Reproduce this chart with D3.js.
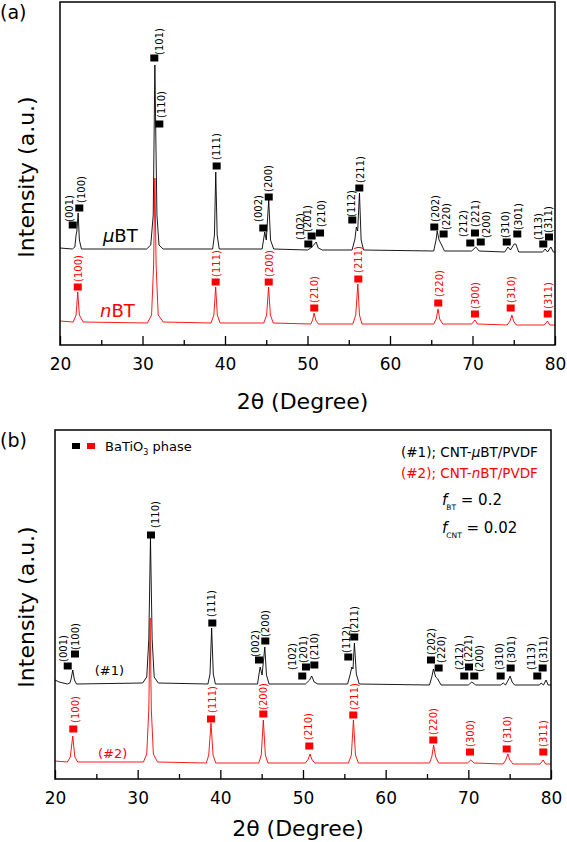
<!DOCTYPE html>
<html><head><meta charset="utf-8">
<script src="https://cdn.jsdelivr.net/npm/d3@7"></script>
<style>body{margin:0;background:#fff}</style>
</head><body>
<svg id="c" width="567" height="842" xmlns="http://www.w3.org/2000/svg"></svg>
<script>
// ---------- data ----------
const xDomain = [20, 80];
const xTicks = [20, 30, 40, 50, 60, 70, 80];
const xMinorTicks = [25, 35, 45, 55, 65, 75];

// panel (a): muBT (black) and nBT (red), [2theta, intensity a.u.]
const aBlack = [[20,97],[21.5,96],[21.8,98],[21.95,110],[22.05,114],[22.2,132],[22.35,105],[22.6,96],
 [30.5,96],[31.0,100],[31.3,130],[31.5,280],[31.62,205],[31.75,130],[32.0,100],[32.5,96],
 [38.5,96],[38.72,110],[38.88,173],[39.05,110],[39.3,96],
 [44.5,96],[44.82,113],[45.0,105],[45.3,145],[45.52,105],[45.9,96],
 [50.0,95],[50.4,97],[50.85,101],[51.05,103],[51.3,97],[51.8,95],
 [55.4,95],[55.75,106],[55.92,118],[56.08,114],[56.3,152],[56.5,105],[56.8,95],
 [65.3,94],[65.58,105],[65.72,114],[65.95,105],[66.2,101],[66.6,94],
 [69.9,94],[70.4,98],[70.8,94],
 [73.9,93],[74.3,98],[74.6,95],[75.05,101],[75.25,101],[75.6,93],
 [78.5,93],[78.8,96],[79.1,93],[79.5,98],[79.8,93],[80,93]];
const aRed = [[20,24],[21.6,23],[21.95,30],[22.15,53],[22.35,30],[22.8,23],
 [30.6,22],[31.1,30],[31.35,80],[31.5,167],[31.65,80],[31.9,30],[32.5,23],
 [38.3,22],[38.65,30],[38.87,58],[39.07,30],[39.4,22],
 [44.7,22],[45.05,30],[45.28,58],[45.5,30],[45.85,22],
 [50.4,21],[50.62,25],[50.8,32],[51.0,25],[51.3,21],
 [55.5,21],[55.85,30],[56.1,61],[56.3,30],[56.6,21],
 [65.3,21],[65.6,26],[65.82,36],[66.02,26],[66.4,21],
 [69.9,21],[70.3,25],[70.6,21],
 [74.2,20],[74.55,24],[74.78,30],[74.98,24],[75.3,20],
 [78.7,20],[79.1,24],[79.35,20],[80,20]];

// panel (b): #1 CNT-muBT/PVDF (black), #2 CNT-nBT/PVDF (red)
const bBlack = [[20,99],[20.5,97],[21.5,95],[21.8,96],[21.95,100],[22.15,109],[22.35,99],[22.6,95],
 [30.6,96],[31.1,102],[31.35,140],[31.55,241],[31.75,140],[32.0,102],[32.5,96],
 [38.5,95],[38.75,105],[38.95,151],[39.15,105],[39.4,95],
 [44.5,95],[44.7,106],[44.82,112],[45.05,104],[45.38,132],[45.58,104],[45.9,95],
 [50.3,95],[50.8,99],[51.05,103],[51.35,97],[51.8,95],
 [55.4,95],[55.72,105],[55.9,112],[56.05,110],[56.22,136],[56.45,105],[56.8,95],
 [65.3,94],[65.58,102],[65.78,110],[66.05,102],[66.3,100],[66.7,94],
 [70.0,94],[70.42,97],[70.9,94],
 [73.9,94],[74.22,96],[74.5,94],[74.9,100],[75.05,103],[75.3,97],[75.6,94],
 [78.6,94],[78.8,96],[79.1,94],[79.4,99],[79.65,94],[80,94]];
const bRed = [[20,18],[21.5,17],[21.85,22],[22.15,43],[22.4,22],[22.75,17],
 [30.7,17],[31.1,25],[31.35,70],[31.5,161],[31.65,70],[31.9,25],[32.4,17],
 [38.3,16],[38.6,24],[38.87,56],[39.12,24],[39.45,16],
 [44.65,16],[44.95,24],[45.2,59],[45.45,24],[45.75,16],
 [50.3,16],[50.65,20],[50.85,25],[51.05,20],[51.4,16],
 [55.5,16],[55.85,24],[56.1,59],[56.35,24],[56.7,16],
 [65.3,16],[65.58,22],[65.8,34],[66.05,22],[66.4,16],
 [69.9,16],[70.3,19],[70.7,16],
 [74.2,15],[74.52,19],[74.78,25],[75.02,19],[75.4,15],
 [78.7,15],[79.05,19],[79.35,15],[80,15]];

// peak labels: [hkl, marker 2theta, marker intensity, label 2theta, label-start intensity]
const aBlackLabels = [["(001)",21.54,120,21.1,123],["(100)",22.34,137,22.55,142],["(101)",31.43,287,32.0,290],
 ["(110)",32.04,221,32.33,227],["(111)",38.99,179,39.0,185],["(002)",44.64,117,44.12,123],["(200)",45.3,148,45.33,153],
 ["(102)",50.1,101,49.1,105],["(201)",50.5,109,50.06,113],["(210)",51.52,112,51.72,118],["(112)",55.43,125,55.36,128],
 ["(211)",56.28,157,56.45,162],["(202)",65.37,118,65.54,123],["(220)",66.5,111,66.87,115],["(212)",69.73,102,68.88,108],
 ["(221)",70.3,112,70.42,118],["(200)",71.0,103,71.64,107],["(310)",74.15,103,74.06,107],["(301)",75.43,111,75.55,115],
 ["(113)",78.58,101,77.98,105],["(311)",79.27,108,79.19,112]];
const aRedLabels = [["(100)",22.15,58,22.22,63],["(111)",38.87,63,38.97,68],["(200)",45.3,63,45.4,68],
 ["(210)",50.82,37,50.9,42],["(211)",56.16,66,56.24,72],["(220)",65.85,42,65.94,48],["(300)",70.3,31,70.42,36],
 ["(310)",74.63,37,74.73,42],["(311)",79.12,31,79.2,36]];
const bBlackLabels = [["(001)",21.54,113,20.97,117],["(100)",22.42,125,22.54,129],["(110)",31.61,244,32.1,251],
 ["(111)",39.03,156,38.96,162],["(002)",44.68,119,44.25,122],["(200)",45.44,138,45.52,142],
 ["(102)",49.91,103,48.79,109],["(201)",50.36,112,50.04,116],["(210)",51.37,114,51.45,119],["(112)",55.48,122,55.28,126],
 ["(211)",56.2,142,56.29,146],["(202)",65.48,119,65.57,124],["(220)",66.41,111,66.78,116],["(212)",69.51,103,68.91,109],
 ["(221)",70.08,112,70.08,117],["(200)",70.72,103,71.41,107],["(310)",73.91,103,73.74,109],["(301)",75.12,111,75.24,116],
 ["(113)",78.34,103,77.66,109],["(311)",78.99,111,79.15,116]];
const bRedLabels = [["(100)",22.21,50,22.5,56],["(111)",38.87,60,39.03,66],["(200)",45.2,65,45.28,69],
 ["(210)",50.76,33,50.72,39],["(211)",56.08,64,56.17,69],["(220)",65.76,39,65.78,44],["(300)",70.2,27,70.32,32],
 ["(310)",74.64,30,74.74,36],["(311)",79.07,27,79.15,32]];

// ---------- drawing ----------
const FONT = "'DejaVu Sans', sans-serif";
const RED = "#ff0000";
const svg = d3.select("#c").attr("font-family", FONT);

function panel(cfg) {
  const g = svg.append("g");
  const x = d3.scaleLinear().domain(xDomain).range([cfg.left, cfg.right]);
  const y = d3.scaleLinear().domain([0, cfg.yMax]).range([cfg.bottom, cfg.top]);
  const line = d3.line().x(d => x(d[0])).y(d => y(d[1]));

  g.append("path").datum(cfg.black).attr("d", line).attr("fill", "none")
    .attr("stroke", "#000").attr("stroke-width", 0.9).attr("stroke-linejoin", "round");
  g.append("path").datum(cfg.red).attr("d", line).attr("fill", "none")
    .attr("stroke", RED).attr("stroke-width", 0.9).attr("stroke-linejoin", "round");

  function labels(arr, color) {
    const lg = g.append("g");
    lg.selectAll("rect").data(arr).join("rect")
      .attr("x", d => x(d[1]) - 4).attr("y", d => y(d[2]) - 3.5)
      .attr("width", 8).attr("height", 7).attr("fill", color);
    lg.selectAll("text").data(arr).join("text")
      .attr("transform", d => `translate(${x(d[3])},${y(d[4])}) rotate(-90)`)
      .attr("dominant-baseline", "central")
      .attr("font-size", 10).attr("fill", color).text(d => d[0]);
  }
  labels(cfg.blackLabels, "#000");
  labels(cfg.redLabels, RED);

  const major = d3.axisBottom(x).tickValues(xTicks).tickSizeInner(-9).tickSizeOuter(0)
    .tickPadding(13).tickFormat(d3.format("d"));
  const gm = g.append("g").attr("transform", `translate(0,${cfg.bottom})`).call(major);
  gm.select(".domain").remove();
  gm.selectAll("line").attr("stroke", "#000").attr("stroke-width", 1.3);
  gm.selectAll("text").attr("font-size", 17).attr("font-family", FONT).attr("fill", "#000");

  const minor = d3.axisBottom(x).tickValues(xMinorTicks).tickSizeInner(-5).tickSizeOuter(0)
    .tickFormat(() => "");
  const gn = g.append("g").attr("transform", `translate(0,${cfg.bottom})`).call(minor);
  gn.select(".domain").remove();
  gn.selectAll("line").attr("stroke", "#000").attr("stroke-width", 1.3);

  g.append("rect").attr("x", cfg.left).attr("y", cfg.top)
    .attr("width", cfg.right - cfg.left).attr("height", cfg.bottom - cfg.top)
    .attr("fill", "none").attr("stroke", "#000").attr("stroke-width", 1.5);

  g.append("text").attr("x", (cfg.left + cfg.right) / 2 - 5).attr("y", cfg.bottom + cfg.titleGap)
    .attr("text-anchor", "middle").attr("font-size", 22).text("2θ (Degree)");
  g.append("text").attr("transform", `translate(26,${cfg.yTitle}) rotate(-90)`)
    .attr("text-anchor", "middle").attr("dominant-baseline", "central")
    .attr("font-size", 22).text("Intensity (a.u.)");
  g.append("text").attr("x", 0).attr("y", cfg.top + 17).attr("font-size", 19).text(cfg.tag);
  return {g, x, y};
}

// panel (a)
const A = panel({left: 60, right: 555, top: 2, bottom: 345, yMax: 343, titleGap: 64,
  black: aBlack, red: aRed, blackLabels: aBlackLabels, redLabels: aRedLabels, yTitle: 177, tag: "(a)"});
const tA1 = A.g.append("text").attr("x", A.x(25.2)).attr("y", A.y(103)).attr("font-size", 18);
tA1.append("tspan").attr("font-style", "italic").text("μ");
tA1.append("tspan").text("BT");
const tA2 = A.g.append("text").attr("x", A.x(24.85)).attr("y", A.y(28)).attr("font-size", 18).attr("fill", RED);
tA2.append("tspan").attr("font-style", "italic").text("n");
tA2.append("tspan").text("BT");

// panel (b)
const B = panel({left: 55, right: 551, top: 430, bottom: 779, yMax: 349, titleGap: 57,
  black: bBlack, red: bRed, blackLabels: bBlackLabels, redLabels: bRedLabels, yTitle: 607, tag: "(b)"});
B.g.append("text").attr("x", B.x(24.8)).attr("y", B.y(104)).attr("font-size", 13).text("(#1)");
B.g.append("text").attr("x", B.x(25.2)).attr("y", B.y(21)).attr("font-size", 13).attr("fill", RED).text("(#2)");

// legend / annotations in (b)
B.g.append("rect").attr("x", 72).attr("y", 443).attr("width", 8).attr("height", 6).attr("fill", "#000");
B.g.append("rect").attr("x", 87).attr("y", 443).attr("width", 8).attr("height", 6).attr("fill", RED);
const lt = B.g.append("text").attr("x", 105).attr("y", 451).attr("font-size", 13);
lt.append("tspan").text("BaTiO");
lt.append("tspan").attr("font-size", 8).attr("dy", 4).text("3");
lt.append("tspan").attr("dy", -4).text(" phase");

const s1 = B.g.append("text").attr("x", 401).attr("y", 457).attr("font-size", 13.5);
s1.append("tspan").text("(#1); CNT-");
s1.append("tspan").attr("font-style", "italic").text("μ");
s1.append("tspan").text("BT/PVDF");
const s2 = B.g.append("text").attr("x", 401).attr("y", 478).attr("font-size", 13.5).attr("fill", RED);
s2.append("tspan").text("(#2); CNT-");
s2.append("tspan").attr("font-style", "italic").text("n");
s2.append("tspan").text("BT/PVDF");

const f1 = B.g.append("text").attr("x", 442).attr("y", 505).attr("font-size", 15);
f1.append("tspan").attr("font-style", "italic").text("f");
f1.append("tspan").attr("font-size", 7.5).attr("dy", 5).attr("dx", -1).text("BT");
f1.append("tspan").attr("dy", -5).text(" = 0.2");
const f2 = B.g.append("text").attr("x", 442).attr("y", 533).attr("font-size", 15);
f2.append("tspan").attr("font-style", "italic").text("f");
f2.append("tspan").attr("font-size", 7.5).attr("dy", 5).attr("dx", -1).text("CNT");
f2.append("tspan").attr("dy", -5).text(" = 0.02");
</script>
</body></html>
